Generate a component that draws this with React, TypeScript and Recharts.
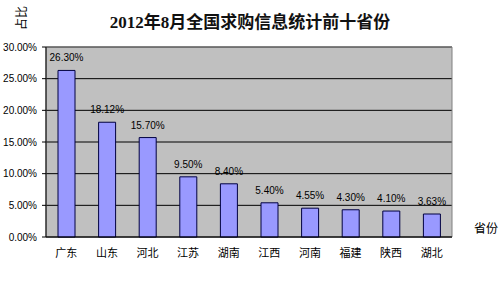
import React from "react";
import { BarChart, Bar, XAxis, YAxis, CartesianGrid, LabelList, Label, ReferenceArea } from "recharts";

const provinces = ["广东", "山东", "河北", "江苏", "湖南", "江西", "河南", "福建", "陕西", "湖北"];
const shares = [26.3, 18.12, 15.7, 9.5, 8.4, 5.4, 4.55, 4.3, 4.1, 3.63];
const yTicks = [0, 5, 10, 15, 20, 25, 30];
const title = "2012年8月全国求购信息统计前十省份";
const yTitle = "占比";
const xTitle = "省份";

const data = provinces.map((p, i) => ({ name: p, value: shares[i] }));

const pct = (v: number) => `${Number(v).toFixed(2)}%`;
const numFont = "'Liberation Sans', Arial, sans-serif";
const cjkFont = "'Noto Sans CJK SC', sans-serif";

export default function App() {
  return (
    <div style={{ position: "absolute", left: 0, top: 0, width: 500, height: 289, background: "#fff" }}>
      <BarChart
        width={500}
        height={289}
        data={data}
        margin={{ top: 47, right: 48, bottom: 0, left: 0 }}
        barSize={17}
      >
        <text
          x={250}
          y={28}
          textAnchor="middle"
          style={{ fontFamily: "'Liberation Serif', 'Noto Sans CJK SC', serif", fontWeight: "bold", fontSize: 17, fill: "#111" }}
        >
          {title}
        </text>
        <CartesianGrid vertical={false} stroke="#000" fill="#C0C0C0" fillOpacity={1} />
        <ReferenceArea y1={0} y2={30} fill="none" stroke="#808080" strokeWidth={1} ifOverflow="visible" />
        <XAxis
          dataKey="name"
          axisLine={{ stroke: "#000" }}
          tickLine={false}
          height={52}
          tickMargin={6}
          tick={{ fontFamily: cjkFont, fontSize: 11, fill: "#000" }}
          interval={0}
        >
          <Label
            content={(props: any) => {
              const vb = props.viewBox || {};
              return (
                <text
                  x={vb.x + vb.width + 34}
                  y={vb.y - 4}
                  textAnchor="middle"
                  style={{ fontFamily: cjkFont, fontSize: 12, fill: "#000" }}
                >
                  {xTitle}
                </text>
              );
            }}
          />
        </XAxis>
        <YAxis
          width={46}
          domain={[0, 30]}
          ticks={yTicks}
          interval={0}
          axisLine={{ stroke: "#000" }}
          tickLine={{ stroke: "#000" }}
          tickSize={4}
          tickMargin={5}
          tickFormatter={pct}
          tick={{ fontFamily: numFont, fontSize: 10, fill: "#000" }}
        >
          <Label
            content={(props: any) => {
              const vb = props.viewBox || {};
              const cx = vb.x + 20;
              const cy = vb.y - 29;
              return (
                <text
                  x={cx}
                  y={cy}
                  textAnchor="middle"
                  dominantBaseline="central"
                  transform={`rotate(-90 ${cx} ${cy})`}
                  style={{ fontFamily: cjkFont, fontSize: 12, fill: "#000" }}
                >
                  {yTitle}
                </text>
              );
            }}
          />
        </YAxis>
        <Bar dataKey="value" fill="#9999FF" stroke="#000040" strokeWidth={1} isAnimationActive={false}>
          <LabelList
            dataKey="value"
            position="top"
            offset={9}
            formatter={pct}
            style={{ fontFamily: numFont, fontSize: 10, fill: "#000" }}
          />
        </Bar>
      </BarChart>
    </div>
  );
}
